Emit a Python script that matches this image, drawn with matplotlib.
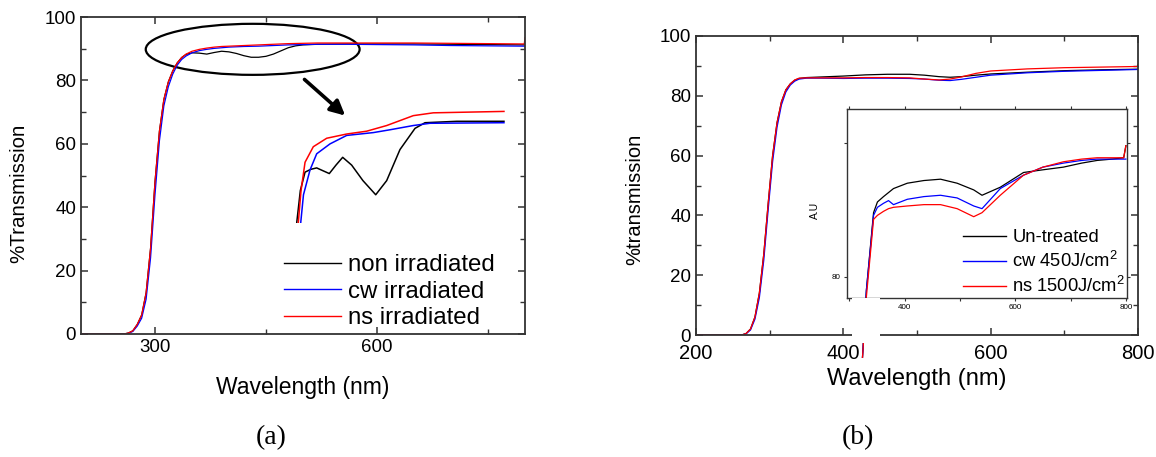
import matplotlib
matplotlib.use("Agg")
import matplotlib.pyplot as plt
from matplotlib.patches import Ellipse, Rectangle
from matplotlib.ticker import MultipleLocator, FixedLocator

plt.rcParams['font.family'] = ['Liberation Sans', 'DejaVu Sans']
plt.rcParams['mathtext.fontset'] = 'custom'
plt.rcParams['mathtext.rm'] = 'Liberation Sans'

# ---------------- Panel (a) main data ----------------
a_wl = [200, 258, 264, 270, 276, 282, 288, 294, 300, 306, 312, 318, 324, 330, 336, 342,
        350, 360, 370, 380, 390, 400, 410, 420, 430, 440, 450, 460, 470, 480, 490, 500,
        520, 560, 600, 650, 700, 750, 799, 800]
a_non = [0, 0, 0.3, 1, 3, 6, 13, 27, 48, 64, 74, 79.5, 83, 85.5, 87.2, 88.2,
         88.7, 88.6, 88.3, 88.8, 89.2, 89.0, 88.5, 87.8, 87.3, 87.3, 87.6, 88.3, 89.3, 90.3, 90.9, 91.2,
         91.4, 91.5, 91.5, 91.5, 91.4, 91.3, 91.2, 91.2]
a_cw = [0, 0, 0.2, 0.8, 2.5, 5, 11, 24, 44, 61, 72, 78, 82, 84.8, 86.6, 87.7,
        88.7, 89.4, 89.8, 90.1, 90.3, 90.5, 90.6, 90.7, 90.75, 90.8, 90.9, 91.0, 91.1, 91.2, 91.25, 91.3,
        91.4, 91.4, 91.3, 91.2, 91.0, 90.9, 90.8, 90.8]
a_ns = [0, 0, 0.3, 1, 3, 6, 13, 27, 48, 64, 74, 79.5, 83, 85.5, 87.2, 88.3,
        89.2, 89.8, 90.2, 90.5, 90.7, 90.8, 90.9, 91.0, 91.1, 91.2, 91.3, 91.4, 91.5, 91.6, 91.65, 91.7,
        91.8, 91.8, 91.8, 91.8, 91.7, 91.6, 91.5, 93.5]

# zoomed (frameless) inset of panel (a)
ia_non_wl = [335.8, 340.0, 345.4, 352, 358.8, 366, 373.3, 381, 388.7, 399, 412, 426.7, 439.3, 454.6, 471.9, 483.4, 520, 574.2]
ia_non = [84.0, 86.3, 87.6, 87.8, 87.9, 87.7, 87.5, 88.1, 88.65, 88.1, 87.0, 86.0, 87.0, 89.2, 90.7, 91.1, 91.2, 91.2]
ia_cw_wl = [340.4, 343.6, 351.1, 358.8, 374.1, 393.3, 423.9, 443.1, 469.9, 489.1, 574.2]
ia_cw = [84.0, 86.0, 87.75, 88.9, 89.6, 90.2, 90.4, 90.6, 90.9, 91.06, 91.1]
ia_ns_wl = [337.6, 340.8, 345.4, 354.9, 370.3, 393.3, 416.3, 439.3, 469.9, 492.9, 574.2]
ia_ns = [84.0, 86.3, 88.3, 89.4, 90.0, 90.3, 90.5, 90.9, 91.6, 91.8, 91.9]

a_labels = ["non irradiated", "cw irradiated", "ns irradiated"]

# ---------------- Panel (b) main data ----------------
b_wl = [200, 262, 268, 274, 280, 286, 292, 298, 304, 310, 316, 322, 328, 334, 340,
        350, 370, 400, 430, 460, 490, 510, 530, 545, 560, 580, 600, 650, 700, 750, 799, 800]
b_un = [0, 0, 0.5, 2, 6, 14, 27, 44, 60, 71, 78, 82, 84, 85.2, 85.8,
        86.1, 86.3, 86.6, 87.0, 87.2, 87.2, 86.9, 86.4, 86.2, 86.4, 86.9, 87.3, 87.9, 88.4, 88.7, 88.9, 88.9]
b_cw = [0, 0, 0.4, 1.7, 5.3, 12.5, 25, 42, 58, 69.5, 77, 81.3, 83.6, 84.9, 85.6,
        85.9, 85.9, 85.8, 85.9, 85.9, 85.8, 85.6, 85.2, 85.1, 85.5, 86.2, 86.9, 87.7, 88.2, 88.5, 88.8, 88.8]
b_ns = [0, 0, 0.5, 2, 6, 14, 27, 44, 60, 71, 78, 82, 84, 85.3, 85.9,
        86.0, 86.0, 86.0, 86.1, 86.1, 86.0, 85.6, 85.3, 85.6, 86.3, 87.5, 88.3, 89.0, 89.4, 89.6, 89.8, 90.5]

# inset of panel (b)
ib_wl = [324, 331, 344, 351, 362, 371, 380, 405, 435, 465, 495, 525, 540, 573, 615, 650, 687, 720, 748, 775, 796, 800]
ib_un = [74.0, 79.0, 84.8, 85.6, 86.0, 86.3, 86.6, 87.0, 87.2, 87.3, 87.0, 86.5, 86.1, 86.7, 87.8, 88.0, 88.2, 88.5, 88.7, 88.8, 88.9, 89.8]
ib_cw = [74.0, 79.0, 84.6, 85.2, 85.5, 85.7, 85.4, 85.8, 86.0, 86.1, 85.9, 85.3, 85.1, 86.6, 87.6, 88.2, 88.5, 88.7, 88.8, 88.8, 88.8, 88.8]
ib_ns = [74.0, 78.5, 84.3, 84.6, 84.9, 85.1, 85.2, 85.3, 85.4, 85.4, 85.1, 84.5, 84.8, 86.1, 87.6, 88.2, 88.6, 88.8, 88.9, 88.9, 88.9, 89.8]
b_labels = ["Un-treated", "cw 450J/cm$\\mathregular{^2}$", "ns 1500J/cm$\\mathregular{^2}$"]

colors = ["black", "#0000ff", "#ff0000"]

W, H = 1156, 457
fig = plt.figure(figsize=(W / 100, H / 100), dpi=100)


def px_axes(l, r, t, b):
    return fig.add_axes([l / W, 1 - b / H, (r - l) / W, (b - t) / H])


def style_main(ax):
    for s in ax.spines.values():
        s.set_linewidth(1.3)
        s.set_color('#333333')
    ax.tick_params(which='both', direction='in', top=True, right=True, color='#333333')
    ax.tick_params(which='major', length=5, width=1.1, labelsize=13.5)
    ax.tick_params(which='minor', length=3.5, width=1.0)


# ---- Panel (a)
ax = px_axes(81, 525, 17, 334)
for y, c in zip([a_non, a_cw, a_ns], colors):
    ax.plot(a_wl, y, color=c, lw=0.9)
ax.set_xlim(200, 800)
ax.set_ylim(0, 100)
ax.xaxis.set_major_locator(FixedLocator([300, 600]))
ax.xaxis.set_minor_locator(FixedLocator([450, 750]))
ax.yaxis.set_major_locator(MultipleLocator(20))
ax.yaxis.set_minor_locator(MultipleLocator(10))
style_main(ax)
ax.set_xlabel("Wavelength (nm)", fontsize=16.5)
ax.set_ylabel("%Transmission", fontsize=14.8)
ax.xaxis.set_label_coords(0.5, -0.133)
ax.yaxis.set_label_coords(-0.119, 0.445)
ax.add_patch(Ellipse((432, 89.8), 289, 16.1, fill=False, lw=1.6, color='black', clip_on=False))
ax.annotate("", xy=(557, 68.9), xytext=(502, 80.3),
            arrowprops=dict(arrowstyle='-|>', lw=2.6, color='black', mutation_scale=22,
                            shrinkA=0, shrinkB=0))
hs = [ax.plot([], [], color=c, lw=1.0)[0] for c in colors]
ax.legend(hs, a_labels, loc='upper left', bbox_to_anchor=((284 - 81) / 444, (334 - 254) / 317),
          frameon=False, fontsize=17.3, handlelength=2.37, handletextpad=0.3,
          labelspacing=0.19, borderpad=0, borderaxespad=0)

# frameless zoom inset of (a)
axa = px_axes(296, 505, 110, 223)
for xw, y, c in zip([ia_non_wl, ia_cw_wl, ia_ns_wl], [ia_non, ia_cw, ia_ns], colors):
    axa.plot(xw, y, color=c, lw=1.1)
axa.set_xlim(335, 575.4)
axa.set_ylim(84, 92)
axa.axis('off')

# ---- Panel (b)
bx = px_axes(696, 1138, 36, 335)
for y, c in zip([b_un, b_cw, b_ns], colors):
    bx.plot(b_wl, y, color=c, lw=0.9)
bx.set_xlim(200, 800)
bx.set_ylim(0, 100)
bx.xaxis.set_major_locator(MultipleLocator(200))
bx.xaxis.set_minor_locator(MultipleLocator(100))
bx.yaxis.set_major_locator(MultipleLocator(20))
bx.yaxis.set_minor_locator(MultipleLocator(10))
style_main(bx)
bx.tick_params(axis='x', labelsize=14.5, pad=6.5)
bx.set_xlabel("Wavelength (nm)", fontsize=17)
bx.set_ylabel("%transmission", fontsize=14.5)
bx.xaxis.set_label_coords(0.5, -0.11)
bx.yaxis.set_label_coords(-0.117, 0.455)

# inset of (b)
ib = px_axes(847, 1127, 109, 298)
for y, c in zip([ib_un, ib_cw, ib_ns], colors):
    ib.plot(ib_wl, y, color=c, lw=0.9, clip_on=False)
ib.set_xlim(296, 802)
ib.set_ylim(78.43, 92.54)
ib.xaxis.set_major_locator(MultipleLocator(200))
ib.xaxis.set_minor_locator(MultipleLocator(100))
ib.yaxis.set_major_locator(FixedLocator([80, 90]))
ib.set_yticklabels(["80", ""])
for s in ib.spines.values():
    s.set_linewidth(1.0)
    s.set_color('#333333')
ib.tick_params(which='both', direction='out', top=True, right=True, labelsize=5.8,
               length=2.5, width=0.8, color='#333333', pad=2)
ib.tick_params(which='minor', length=2)
ib.set_ylabel("A.U", fontsize=7.5)
ib.yaxis.set_label_coords((819.5 - 847) / 280, (298 - 210) / 189)
hb = [ib.plot([], [], color=c, lw=1.0)[0] for c in colors]
ib.legend(hb, b_labels, loc='upper left', bbox_to_anchor=((963 - 847) / 280, (298 - 229) / 189),
          frameon=False, fontsize=13.2, handlelength=2.37, handletextpad=0.33,
          labelspacing=0.27, borderpad=0, borderaxespad=0)

# white gap in (b) x-axis where the inset label box sits
fig.patches.append(Rectangle((852 / W, 1 - 343 / H), 28 / W, 45 / H, transform=fig.transFigure,
                             facecolor='white', edgecolor='none', zorder=5))

fig.text(271 / W, 1 - 438 / H, "(a)", ha='center', va='center', fontsize=20,
         family=['Liberation Serif'])
fig.text(858 / W, 1 - 438 / H, "(b)", ha='center', va='center', fontsize=20,
         family=['Liberation Serif'])

fig.savefig("out.png", dpi=100, facecolor='white')
